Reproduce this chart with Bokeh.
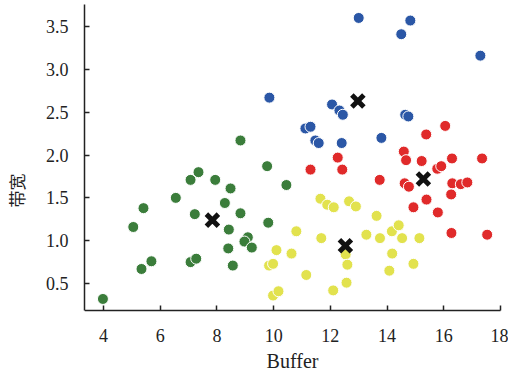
from bokeh.plotting import figure
from bokeh.models import Range1d, FixedTicker, PrintfTickFormatter
from bokeh.embed import file_html
from bokeh.resources import INLINE

# Cluster data (Buffer, 带宽)
green_x = [3.98, 5.34, 5.69, 5.05, 5.41, 6.55, 7.07, 7.35, 7.94, 8.48, 8.28, 7.22, 8.42,
           8.40, 7.07, 7.27, 8.56, 9.09, 8.97, 9.23, 8.83, 10.45, 9.81, 9.77, 8.83]
green_y = [0.32, 0.67, 0.76, 1.16, 1.38, 1.50, 1.71, 1.80, 1.71, 1.61, 1.44, 1.31, 1.13,
           0.91, 0.75, 0.79, 0.71, 1.04, 0.99, 0.92, 1.32, 1.65, 1.21, 1.87, 2.17]

yellow_x = [11.65, 11.89, 12.12, 12.66, 12.90, 13.63, 10.80, 11.68, 13.27, 13.75, 14.17, 14.41,
            14.53, 15.14, 14.18, 14.93, 14.08, 10.10, 10.63, 9.84, 9.98, 12.54, 12.60, 11.15,
            12.57, 12.10, 9.98, 10.17]
yellow_y = [1.49, 1.42, 1.39, 1.46, 1.40, 1.29, 1.11, 1.03, 1.07, 1.03, 1.11, 1.18,
            1.03, 1.03, 0.85, 0.73, 0.65, 0.89, 0.85, 0.71, 0.73, 0.84, 0.72, 0.60,
            0.51, 0.42, 0.36, 0.41]

blue_x = [13.00, 14.82, 14.50, 17.29, 9.85, 12.06, 12.32, 12.44, 14.64, 14.75, 11.12, 11.30,
          11.47, 11.59, 12.40, 13.80]
blue_y = [3.60, 3.57, 3.41, 3.16, 2.67, 2.59, 2.52, 2.47, 2.47, 2.45, 2.31, 2.33,
          2.17, 2.14, 2.14, 2.20]

red_x = [16.05, 15.38, 12.26, 11.30, 12.42, 14.59, 14.67, 15.22, 16.29, 17.35, 15.77, 15.91,
         13.74, 14.62, 14.77, 16.30, 16.60, 16.83, 16.26, 15.39, 14.93, 15.79, 16.27, 17.53]
red_y = [2.34, 2.24, 1.97, 1.83, 1.83, 2.04, 1.94, 1.93, 1.96, 1.96, 1.84, 1.87,
         1.71, 1.67, 1.63, 1.67, 1.66, 1.68, 1.54, 1.48, 1.39, 1.33, 1.09, 1.07]

center_x = [7.84, 12.53, 12.97, 15.28]
center_y = [1.24, 0.94, 2.63, 1.72]

x_ticks = [4, 6, 8, 10, 12, 14, 16, 18]
y_ticks = [0.5, 1.0, 1.5, 2.0, 2.5, 3.0, 3.5]

X0, X1 = 3.33, 18.0
Y0, Y1 = 0.185, 3.757
# the frame extends past the axes (right and down) so the x axis, pinned at Y0,
# and its labels are drawn inside it and the "18" label may overhang the axis end
X_FRAME_END = 18.282
Y_FRAME_START = -0.585

p = figure(width=508, height=376, output_backend="svg", toolbar_location=None,
           x_range=Range1d(X0, X_FRAME_END), y_range=Range1d(Y_FRAME_START, Y1),
           min_border_left=84, min_border_right=0, min_border_top=4, min_border_bottom=0)
p.outline_line_color = None
p.grid.visible = False
p.background_fill_color = "white"

for xs, ys, col in [(green_x, green_y, "#3b7d3b"), (yellow_x, yellow_y, "#e2e24e"),
                    (blue_x, blue_y, "#2b57a6"), (red_x, red_y, "#e02a2a")]:
    p.scatter(xs, ys, size=11, fill_color=col, line_color="white", line_width=1)

p.scatter(center_x, center_y, marker="x", size=17, line_color="#111111", line_width=5)

p.xaxis.ticker = FixedTicker(ticks=x_ticks)
p.yaxis.ticker = FixedTicker(ticks=y_ticks)
p.yaxis.formatter = PrintfTickFormatter(format="%.1f")
p.xaxis.axis_label = "Buffer"
p.yaxis.axis_label = "带宽"
p.xaxis.fixed_location = Y0
p.xaxis.bounds = (X0, X1)
p.yaxis.bounds = (Y0, Y1)

for ax in [p.xaxis[0], p.yaxis[0]]:
    ax.axis_line_color = "#222222"
    ax.axis_line_width = 1.5
    ax.major_tick_line_color = "#222222"
    ax.major_tick_line_width = 1.5
    ax.major_tick_in = 5
    ax.major_tick_out = 0
    ax.minor_tick_line_color = None
    ax.major_label_text_font = "Liberation Serif"
    ax.major_label_text_font_size = "18px"
    ax.major_label_text_color = "#222222"
    ax.axis_label_text_font_style = "normal"
    ax.axis_label_text_color = "#222222"

p.xaxis.major_label_standoff = 18
p.yaxis.major_label_standoff = 16
p.xaxis.axis_label_text_font = "Liberation Serif"
p.xaxis.axis_label_text_font_size = "20px"
p.xaxis.axis_label_standoff = 5
p.yaxis.axis_label_text_font = "Noto Sans CJK SC"
p.yaxis.axis_label_text_font_size = "17px"
p.yaxis.axis_label_standoff = 14

open("out.html", "w").write(file_html(p, INLINE))
